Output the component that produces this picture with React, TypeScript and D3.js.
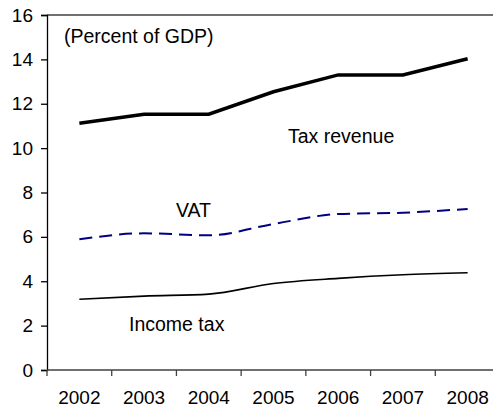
import { useEffect, useRef } from "react";
import * as d3 from "d3";

const YEARS = ["2002", "2003", "2004", "2005", "2006", "2007", "2008"];
const TAX_REVENUE = [11.12, 11.53, 11.53, 12.54, 13.3, 13.3, 14.03];
const VAT = [5.89, 6.16, 6.07, 6.58, 7.03, 7.09, 7.26];
const INCOME_TAX = [3.19, 3.33, 3.42, 3.9, 4.13, 4.29, 4.38];
const Y_TICKS = [0, 2, 4, 6, 8, 10, 12, 14, 16];

const WIDTH = 493;
const HEIGHT = 408;
const FONT = "'Liberation Sans', Arial, sans-serif";

export default function App() {
  const svgRef = useRef<SVGSVGElement>(null);

  useEffect(() => {
    const svgElement = svgRef.current;
    if (!svgElement) return;

    const left = 47;
    const right = 500;
    const top = 15;
    const bottom = 370;

    const x = d3.scaleBand().domain(YEARS).range([left, right]);
    const y = d3.scaleLinear().domain([0, 16]).range([bottom, top]);
    const cx = (i: number) => (x(YEARS[i]) ?? 0) + x.bandwidth() / 2;

    const svg = d3.select(svgElement);
    svg.selectAll("*").remove();

    // plot area top border
    svg
      .append("line")
      .attr("x1", left)
      .attr("x2", right)
      .attr("y1", top)
      .attr("y2", top)
      .attr("stroke", "#404040")
      .attr("stroke-width", 1.3);

    // y axis
    const yAxis = svg
      .append("g")
      .attr("transform", `translate(${left},0)`)
      .call(d3.axisLeft(y).tickValues(Y_TICKS).tickSize(6).tickPadding(8).tickFormat(d3.format("d")));
    yAxis.select(".domain").attr("stroke", "#000").attr("stroke-width", 1.3);
    yAxis.selectAll(".tick line").attr("stroke", "#000").attr("stroke-width", 1.3);
    yAxis
      .selectAll(".tick text")
      .attr("font-family", FONT)
      .attr("font-size", 19)
      .attr("fill", "#000");

    // x axis, ticks sit on the category boundaries
    const xAxis = svg.append("g").attr("transform", `translate(0,${bottom})`);
    xAxis
      .append("line")
      .attr("x1", left)
      .attr("x2", right)
      .attr("stroke", "#404040")
      .attr("stroke-width", 1.3);
    xAxis
      .selectAll("line.tick")
      .data(YEARS)
      .join("line")
      .attr("class", "tick")
      .attr("x1", (d) => x(d) ?? 0)
      .attr("x2", (d) => x(d) ?? 0)
      .attr("y1", 0)
      .attr("y2", 6)
      .attr("stroke", "#404040")
      .attr("stroke-width", 1.3);
    xAxis
      .selectAll("text")
      .data(YEARS)
      .join("text")
      .attr("x", (_, i) => cx(i))
      .attr("y", 34)
      .attr("text-anchor", "middle")
      .attr("font-family", FONT)
      .attr("font-size", 19)
      .attr("fill", "#000")
      .text((d) => d);

    const linear = d3
      .line<number>()
      .x((_, i) => cx(i))
      .y((d) => y(d));
    const smooth = d3
      .line<number>()
      .x((_, i) => cx(i))
      .y((d) => y(d))
      .curve(d3.curveMonotoneX);

    svg
      .append("path")
      .attr("d", smooth(INCOME_TAX))
      .attr("fill", "none")
      .attr("stroke", "#000")
      .attr("stroke-width", 1.6);

    svg
      .append("path")
      .attr("d", smooth(VAT))
      .attr("fill", "none")
      .attr("stroke", "#000080")
      .attr("stroke-width", 2)
      .attr("stroke-dasharray", "13,7");

    svg
      .append("path")
      .attr("d", linear(TAX_REVENUE))
      .attr("fill", "none")
      .attr("stroke", "#000")
      .attr("stroke-width", 3.5);

    const labels = [
      { text: "(Percent of GDP)", x: 64, y: 43 },
      { text: "Tax revenue", x: 288, y: 143 },
      { text: "VAT", x: 176, y: 217 },
      { text: "Income tax", x: 129, y: 331 },
    ];
    svg
      .selectAll("text.label")
      .data(labels)
      .join("text")
      .attr("class", "label")
      .attr("x", (d) => d.x)
      .attr("y", (d) => d.y)
      .attr("font-family", FONT)
      .attr("font-size", 19.5)
      .attr("fill", "#000")
      .text((d) => d.text);
  }, []);

  return (
    <svg
      ref={svgRef}
      width={WIDTH}
      height={HEIGHT}
      style={{ position: "absolute", left: 0, top: 0, background: "#fff" }}
    />
  );
}
